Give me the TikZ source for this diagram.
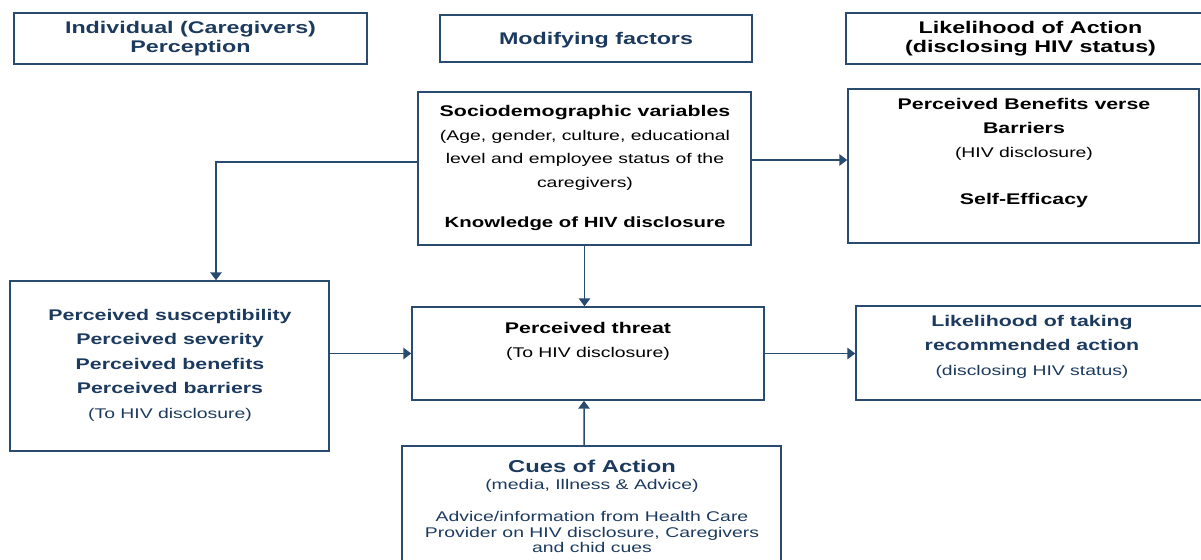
\documentclass[tikz,border=0pt]{standalone}
\usepackage{fontspec}
\setmainfont{Liberation Sans}[FakeStretch=1.38]
\usepackage{xcolor}
\usepackage{tikz}
\usetikzlibrary{arrows.meta, positioning, fit}

\definecolor{navytxt}{HTML}{1C3A5E}
\definecolor{boxblue}{HTML}{2A4B70}

\begin{document}
\begin{tikzpicture}[
  x=0.02cm, y=-0.02cm,
  box/.style ={draw=boxblue, line width=0.85pt, inner sep=0pt},
  hdr/.style ={box, align=center, minimum height=1.02cm,
               font=\fontsize{9.6}{10.8}\selectfont\bfseries},
  txt/.style ={anchor=north, align=center, inner sep=0pt},
  arr/.style ={-{Triangle[length=4.5pt, width=6.5pt]}, draw=boxblue,
               line width=0.85pt},
]
  \useasboundingbox (0,0) rectangle (1201,560);

  % === Column headers ===
  \node[hdr, text=navytxt, minimum width=7.06cm] (hdrIndiv)
    at (190.5,38.5) {Individual (Caregivers)\\Perception};
  \node[hdr, text=navytxt, minimum width=6.24cm, minimum height=0.94cm,
        text depth=0pt] (hdrModif) at (596,38.5) {Modifying factors};
  \node[hdr, text=black, minimum width=7.38cm] (hdrLikely)
    at (1030.5,38.5) {Likelihood of Action\\(disclosing HIV status)};

  % === Boxes ===
  \node[box, fit={(418,92) (751,245)}]   (socio) {};
  \node[box, fit={(848,89) (1199,243)}]  (bene)  {};
  \node[box, fit={(10,281) (329,451)}]   (percv) {};
  \node[box, fit={(412,307) (764,400)}]  (threat) {};
  \node[box, fit={(856,306) (1215,400)}] (likely) {};
  \node[box, fit={(402,446) (781,580)}]  (cues)  {};

  % === Box texts ===
  % Modifying factors
  \node[txt, text=black, font=\fontsize{8}{13.4}\selectfont]
    (socioT) at (585,105)
    {{\fontsize{8.8}{13.4}\selectfont\bfseries Sociodemographic variables}\\
     (Age, gender, culture, educational\\
     level and employee status of the\\
     caregivers)\\[9.4pt]
     {\fontsize{8.4}{13.4}\selectfont\bfseries Knowledge of HIV disclosure}};

  % Likelihood of action
  \node[txt, text=black, font=\fontsize{8}{13.7}\selectfont]
    (beneT) at (1024,98)
    {{\fontsize{8.8}{13.7}\selectfont\bfseries Perceived Benefits verse}\\
     {\fontsize{8.8}{13.7}\selectfont\bfseries Barriers}\\
     (HIV disclosure)\\[13pt]
     {\fontsize{8.8}{13.7}\selectfont\bfseries Self-Efficacy}};

  % Individual perception
  \node[txt, text=navytxt, font=\fontsize{8.8}{13.9}\selectfont\bfseries]
    (percvT) at (170,309)
    {Perceived susceptibility\\
     Perceived severity\\
     Perceived benefits\\
     Perceived barriers\\
     {\fontsize{8}{13.9}\selectfont\mdseries (To HIV disclosure)}};

  \node[txt, text=black, font=\fontsize{8}{13.4}\selectfont]
    (threatT) at (588,322)
    {{\fontsize{8.8}{13.4}\selectfont\bfseries Perceived threat}\\
     (To HIV disclosure)};

  \node[txt, text=navytxt, font=\fontsize{8.8}{13.9}\selectfont\bfseries]
    (likelyT) at (1032,315)
    {Likelihood of taking\\
     recommended action\\
     {\fontsize{8}{13.9}\selectfont\mdseries (disclosing HIV status)}};

  \node[txt, text=navytxt, font=\fontsize{8}{8.9}\selectfont]
    (cuesT) at (592,460)
    {{\fontsize{9.8}{8.9}\selectfont\bfseries Cues of Action}\\[0.4pt]
     (media, Illness \& Advice)\\[9.6pt]
     Advice/information from Health Care\\
     Provider on HIV disclosure, Caregivers\\
     and chid cues};

  % === Connectors ===
  \coordinate (socioR) at ([yshift=0.17cm]socio.east);
  \draw[arr] ([yshift=0.13cm]socio.west) -| ([xshift=0.93cm]percv.north);
  \draw[arr] (socioR) -- (socioR -| bene.west);
  \draw[arr] (socio.south) -- (socio.south |- threat.north);
  \draw[arr] (percv.east |- threat.west) -- (threat.west);
  \draw[arr] (threat.east) -- (threat.east -| likely.west);
  \draw[arr] ([xshift=-0.15cm]cues.north) -- ([xshift=-0.08cm]threat.south);

\end{tikzpicture}
\end{document}
